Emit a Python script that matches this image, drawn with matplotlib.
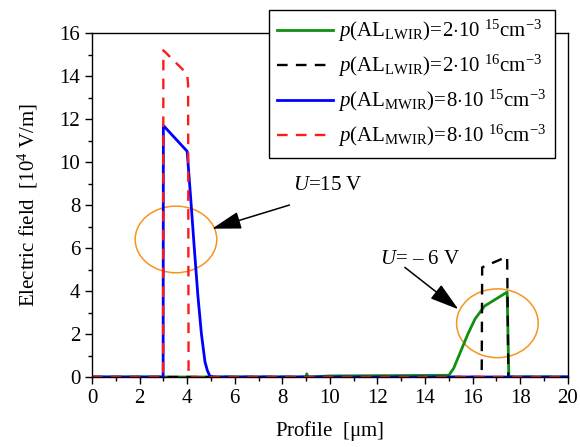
import matplotlib
matplotlib.use("Agg")
import matplotlib.pyplot as plt
from matplotlib.patches import Ellipse

# profile positions [um] and electric field [10^4 V/m]
x_lwir_15 = [0, 9.0, 9.03, 9.06, 10, 15.0, 15.2, 15.5, 15.8, 16.1, 16.5, 17.45, 17.52, 20]
e_lwir_15 = [0, 0, 0.15, 0, 0.05, 0.08, 0.4, 1.2, 2.0, 2.7, 3.3, 3.95, 0, 0]

x_lwir_16 = [0, 16.38, 16.4, 17.45, 17.5, 20]
e_lwir_16 = [0, 0, 5.1, 5.6, 0, 0]

x_mwir_15 = [0, 2.99, 3.0, 4.0, 4.15, 4.3, 4.45, 4.6, 4.75, 4.85, 4.95, 5.1, 20]
e_mwir_15 = [0, 0, 11.7, 10.5, 8.3, 6.0, 3.8, 2.0, 0.7, 0.3, 0.05, 0, 0]

x_mwir_16 = [0, 2.99, 3.0, 4.0, 4.04, 4.06, 20]
e_mwir_16 = [0, 0, 15.2, 14.1, 13.6, 0, 0]

labels = [
    r'$\mathit{p}(\mathrm{AL}_{\mathrm{LWIR}})\!=\!2{\cdot}10\ ^{15}\mathrm{cm}^{-3}$',
    r'$\mathit{p}(\mathrm{AL}_{\mathrm{LWIR}})\!=\!2{\cdot}10\ ^{16}\mathrm{cm}^{-3}$',
    r'$\mathit{p}(\mathrm{AL}_{\mathrm{MWIR}})\!=\!8{\cdot}10\ ^{15}\mathrm{cm}^{-3}$',
    r'$\mathit{p}(\mathrm{AL}_{\mathrm{MWIR}})\!=\!8{\cdot}10\ ^{16}\mathrm{cm}^{-3}$',
]

plt.rcParams.update({
    "font.family": "serif",
    "font.serif": ["Liberation Serif", "DejaVu Serif"],
    "mathtext.fontset": "custom",
    "mathtext.rm": "Liberation Serif",
    "mathtext.it": "Liberation Serif:italic",
    "font.size": 15,
})

fig = plt.figure(figsize=(5.8, 4.47), dpi=100)
ax = fig.add_axes([0.1586, 0.1566, 0.8204, 0.7694])

l1, = ax.plot(x_lwir_15, e_lwir_15, color='#109010', lw=2)
l2, = ax.plot(x_lwir_16, e_lwir_16, color='black', lw=1.7, dashes=(4.5, 3.5))
l3, = ax.plot(x_mwir_15, e_mwir_15, color='#0000ff', lw=2)
l4, = ax.plot(x_mwir_16, e_mwir_16, color='#ff1a1a', lw=1.7, dashes=(4.5, 3.5))

ax.set_xlim(0, 20)
ax.set_ylim(0, 16)
ax.set_xticks(range(0, 21, 2))
ax.set_xticks(range(0, 21, 1), minor=True)
ax.set_yticks(range(0, 17, 2))
ax.set_yticks(range(0, 17, 1), minor=True)
ax.tick_params(which='major', direction='out', length=5, width=1, labelsize=15)
ax.tick_params(which='minor', direction='out', length=3, width=1)
for s in ax.spines.values():
    s.set_linewidth(1)

ax.set_xlabel(r'Profile  [$\mathrm{\mu}$m]', fontsize=15, labelpad=8)
ax.set_ylabel(r'Electric field  [10$^4$ V/m]', fontsize=15, labelpad=14)

orange = '#f7941d'
ax.add_patch(Ellipse((3.53, 6.4), 3.43, 3.1, fill=False, ec=orange, lw=1.1))
ax.add_patch(Ellipse((17.04, 2.5), 3.43, 3.2, fill=False, ec=orange, lw=1.1))

arrow = dict(arrowstyle='-|>,head_length=1.5,head_width=0.45', color='black',
             lw=1.1, mutation_scale=12, shrinkA=0, shrinkB=0)
ax.annotate('', xy=(5.05, 6.9), xytext=(8.3, 8.0), arrowprops=arrow)
ax.annotate('', xy=(15.4, 3.15), xytext=(13.15, 5.1), arrowprops=arrow)
ax.text(8.45, 8.9, r'$\mathit{U}$=15 V', fontsize=15, va='center', ha='left')
ax.text(12.1, 5.45, r'$\mathit{U}$= – 6 V', fontsize=15, va='center', ha='left')

leg = fig.legend([l1, l2, l3, l4], labels, loc='upper right',
                 bbox_to_anchor=(0.957, 0.978), fontsize=15, fancybox=False,
                 edgecolor='black', framealpha=1, handlelength=2.7,
                 borderpad=0.4, labelspacing=0.42, handletextpad=0.25,
                 borderaxespad=0)
leg.get_frame().set_linewidth(1)

fig.savefig('out.png', dpi=100)
